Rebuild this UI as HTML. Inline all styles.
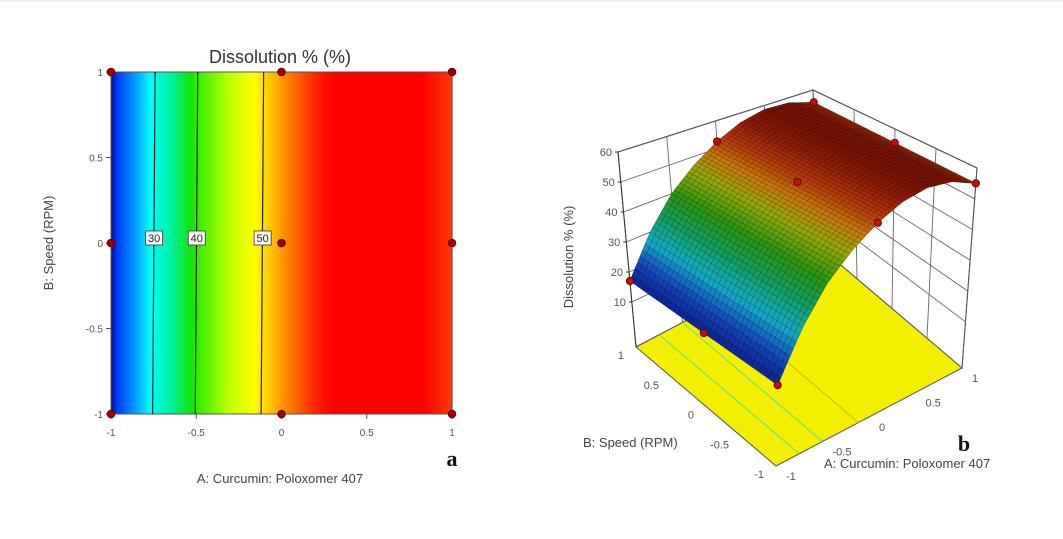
<!DOCTYPE html>
<html><head><meta charset="utf-8">
<style>
html,body{margin:0;padding:0;background:#fff;}
svg{display:block;font-family:"Liberation Sans",Arial,sans-serif;}
</style></head>
<body>
<svg id="fig" width="1063" height="539" viewBox="0 0 1063 539">
  <line x1="0" y1="1" x2="1063" y2="1" stroke="#ddd"/>
  <g id="left"></g>
  <g id="right"></g>
</svg>
<script>
// ---- data ----
const levelsA = [-1, -0.75, -0.5, -0.25, 0, 0.25, 0.5, 0.75, 1];
const dissolution = [17, 30, 40, 47, 52.5, 56.5, 58.5, 58, 55];
const contourLevels = [30, 40, 50];
const designA = [-1, 0, 1, -1, 0, 1, -1, 0, 1];
const designB = [1, 1, 1, 0, 0, 0, -1, -1, -1];
const axisTicks = [-1, -0.5, 0, 0.5, 1];
const axisTickLabels = ["-1", "-0.5", "0", "0.5", "1"];
const zTicks = [10, 20, 30, 40, 50, 60];

const NS = "http://www.w3.org/2000/svg";
function el(tag, attrs, parent, text) {
  const e = document.createElementNS(NS, tag);
  for (const k in attrs) e.setAttribute(k, attrs[k]);
  if (text !== undefined) e.textContent = text;
  parent.appendChild(e);
  return e;
}
function valueAt(a) {
  if (a <= levelsA[0]) return dissolution[0];
  for (let i = 1; i < levelsA.length; i++) {
    if (a <= levelsA[i]) {
      const t = (a - levelsA[i-1]) / (levelsA[i] - levelsA[i-1]);
      return dissolution[i-1] + t * (dissolution[i] - dissolution[i-1]);
    }
  }
  return dissolution[dissolution.length-1];
}
function aForValue(v) {
  for (let i = 1; i < levelsA.length; i++) {
    const v0 = dissolution[i-1], v1 = dissolution[i];
    if ((v - v0) * (v - v1) <= 0 && v0 !== v1) {
      return levelsA[i-1] + (v - v0) / (v1 - v0) * (levelsA[i] - levelsA[i-1]);
    }
  }
  return null;
}
function lerpStops(stops, v) {
  if (v <= stops[0][0]) return stops[0][1];
  for (let i = 1; i < stops.length; i++) {
    if (v <= stops[i][0]) {
      const t = (v - stops[i-1][0]) / (stops[i][0] - stops[i-1][0]);
      const a = stops[i-1][1], b = stops[i][1];
      return [0,1,2].map(k => Math.round(a[k] + t * (b[k] - a[k])));
    }
  }
  return stops[stops.length-1][1];
}
const flatStops = [[17,[0,16,150]],[19,[0,60,255]],[24,[0,150,255]],[29,[0,255,255]],[34,[0,240,160]],[39,[20,230,0]],[45,[180,255,0]],[49,[255,255,0]],[52,[255,170,0]],[55,[255,60,0]],[57,[255,0,0]],[60,[255,0,0]]];
const surfStops = [[15,[10,20,130]],[22,[20,70,190]],[28,[20,170,200]],[34,[20,160,100]],[40,[40,150,20]],[46,[150,170,0]],[50,[200,120,10]],[54,[180,50,10]],[58,[130,20,5]],[60,[110,15,5]]];
const rgb = c => `rgb(${c[0]},${c[1]},${c[2]})`;

// ===== Left contour plot =====
(function(){
  const g = document.getElementById('left');
  const x0 = 111, x1 = 452, y0 = 72, y1 = 414;
  const xs = a => x0 + (a + 1) / 2 * (x1 - x0);
  const ys = b => y1 - (b + 1) / 2 * (y1 - y0);
  const N = 170;
  for (let i = 0; i < N; i++) {
    const a = -1 + (i + 0.5) / N * 2;
    const r = el('rect', {x: xs(-1 + i / N * 2), y: y0, width: (x1 - x0) / N + 0.6, height: y1 - y0, fill: rgb(lerpStops(flatStops, valueAt(a)))}, g);
    
    
  }
  el('rect', {x: x0, y: y0, width: x1 - x0, height: y1 - y0, fill: 'none', stroke: '#555', 'stroke-width': 1,  }, g);
  contourLevels.forEach(v => {
    const a = aForValue(v);
    if (a === null) return;
    const x = xs(a);
    const l = el('line', {x1: x + 1.5, y1: y0, x2: x - 1, y2: y1, stroke: '#222', 'stroke-width': 1.2}, g);
    
    
    const lb = el('rect', {x: x - 8, y: ys(0) - 12, width: 17, height: 14, fill: '#fff', stroke: '#333', 'stroke-width': 0.8}, g);
    
    
    const t = el('text', {x: x + 0.5, y: ys(0) - 1, 'font-size': 11, 'text-anchor': 'middle', fill: '#222'}, g, String(v));
    
    
  });
  axisTicks.forEach((v, i) => {
    const tx = el('line', {x1: xs(v), y1: y1, x2: xs(v), y2: y1 + 5, stroke: '#555'}, g);
    
    
    const lx = el('text', {x: xs(v), y: y1 + 22, 'font-size': 10, 'text-anchor': 'middle', fill: '#555'}, g, axisTickLabels[i]);
    
    
    const ty = el('line', {x1: x0 - 5, y1: ys(v), x2: x0, y2: ys(v), stroke: '#555'}, g);
    
    
    const ly = el('text', {x: x0 - 8, y: ys(v) + 4, 'font-size': 10, 'text-anchor': 'end', fill: '#555'}, g, axisTickLabels[i]);
    
    
  });
  designA.forEach((a, i) => {
    const c = el('circle', {cx: xs(a), cy: ys(designB[i]), r: 3.8, fill: '#a00000', stroke: '#600'}, g);
    
    
  });
  el('text', {x: 280, y: 63, 'font-size': 18, 'text-anchor': 'middle', fill: '#333',  }, g, 'Dissolution % (%)');
  el('text', {x: 280, y: 483, 'font-size': 13, 'text-anchor': 'middle', fill: '#444',  }, g, 'A: Curcumin: Poloxomer 407');
  el('text', {x: 0, y: 0, 'font-size': 13, 'text-anchor': 'middle', fill: '#444', transform: 'translate(53,243) rotate(-90)',  }, g, 'B: Speed (RPM)');
  el('text', {x: 452, y: 466, 'font-size': 22, 'font-weight': 'bold', 'text-anchor': 'middle', fill: '#111', 'font-family': '"Liberation Serif",serif',  }, g, 'a');
})();

// ===== Right 3D surface =====
(function(){
  const g = document.getElementById('right');
  const z0 = -5, z1 = 60;
  const floorC = {F:[776,466], L:[636,347], R:[962,368], K:[822,249]};
  const topC = {F:[781,227], L:[618,152], R:[977,168], K:[813,90]};
  function bil(C, a, b) {
    const u = (a + 1) / 2, v = (b + 1) / 2;
    return [0,1].map(k => C.F[k]*(1-u)*(1-v) + C.R[k]*u*(1-v) + C.L[k]*(1-u)*v + C.K[k]*u*v);
  }
  function P(a, b, z) {
    const f = bil(floorC, a, b), t = bil(topC, a, b), s = (z - z0) / (z1 - z0);
    return [f[0] + s * (t[0] - f[0]), f[1] + s * (t[1] - f[1])];
  }
  const pts = arr => arr.map(p => p[0].toFixed(1) + ',' + p[1].toFixed(1)).join(' ');
  // walls
  el('polygon', {points: pts([P(-1,1,z0),P(1,1,z0),P(1,1,z1),P(-1,1,z1)]), fill: '#fff', stroke: '#555',  }, g);
  el('polygon', {points: pts([P(1,1,z0),P(1,-1,z0),P(1,-1,z1),P(1,1,z1)]), fill: '#fff', stroke: '#555',  }, g);
  zTicks.forEach(z => {
    const a = P(-1,1,z), b = P(1,1,z), c = P(1,-1,z);
    const l = el('polyline', {points: pts([a,b,c]), fill: 'none', stroke: '#666', 'stroke-width': 0.9}, g);
    
    
    const t = el('text', {x: a[0] - 6, y: a[1] + 4, 'font-size': 11, 'text-anchor': 'end', fill: '#555'}, g, String(z));
    
    
    const tk = el('line', {x1: a[0] - 3, y1: a[1], x2: a[0], y2: a[1], stroke: '#333'}, g);
    
    
  });
  [-0.5, 0, 0.5].forEach(v => {
    const l1 = el('line', {x1: P(v,1,z0)[0], y1: P(v,1,z0)[1], x2: P(v,1,z1)[0], y2: P(v,1,z1)[1], stroke: '#666', 'stroke-width': 0.9}, g);
    
    
    const l2 = el('line', {x1: P(1,v,z0)[0], y1: P(1,v,z0)[1], x2: P(1,v,z1)[0], y2: P(1,v,z1)[1], stroke: '#666', 'stroke-width': 0.9}, g);
    
    
  });
  el('line', {x1: P(-1,1,z0)[0], y1: P(-1,1,z0)[1], x2: P(-1,1,z1)[0], y2: P(-1,1,z1)[1], stroke: '#333',  }, g);
  // floor
  el('polygon', {points: pts([P(-1,-1,z0),P(1,-1,z0),P(1,1,z0),P(-1,1,z0)]), fill: '#f2f000', stroke: '#555',  }, g);
  contourLevels.forEach(v => {
    const a = aForValue(v);
    if (a === null) return;
    const p = P(a,-1,z0), q = P(a,1,z0);
    const l = el('line', {x1: p[0], y1: p[1], x2: q[0], y2: q[1], stroke: v === 50 ? '#c8c000' : '#60e080', 'stroke-width': 1}, g);
    
    
  });
  // surface mesh (painter's order back to front)
  const NA = 64, NB = 34;
  const quads = [];
  for (let i = 0; i < NA; i++) for (let j = 0; j < NB; j++) {
    const a0 = -1 + i / NA * 2, a1 = -1 + (i + 1) / NA * 2;
    const b0 = -1 + j / NB * 2, b1 = -1 + (j + 1) / NB * 2;
    quads.push({a0, a1, b0, b1, d: a0 + a1 + b0 + b1});
  }
  quads.sort((p, q) => q.d - p.d);
  quads.forEach(q => {
    const v0 = valueAt(q.a0), v1 = valueAt(q.a1);
    const col = lerpStops(surfStops, (v0 + v1) / 2);
    const poly = el('polygon', {points: pts([P(q.a0,q.b0,v0),P(q.a1,q.b0,v1),P(q.a1,q.b1,v1),P(q.a0,q.b1,v0)]), fill: rgb(col), stroke: rgb(col.map(c => Math.round(c * 0.55))), 'stroke-width': 0.45}, g);
    
    
  });
  // box top front edges
  el('polyline', {points: pts([P(-1,1,z1),P(1,1,z1),P(1,-1,z1)]), fill: 'none', stroke: '#555',  }, g);
  el('line', {x1: P(1,-1,z0)[0], y1: P(1,-1,z0)[1], x2: P(1,-1,z1)[0], y2: P(1,-1,z1)[1], stroke: '#555',  }, g);
  designA.forEach((a, i) => {
    const p = P(a, designB[i], valueAt(a));
    const c = el('circle', {cx: p[0], cy: p[1], r: 3.6, fill: '#c01010', stroke: '#700'}, g);
    
    
  });
  // floor axis ticks
  axisTicks.forEach((v, i) => {
    const pb = P(-1, v, z0);
    const tb = el('text', {x: pb[0] - 12, y: pb[1] + 12, 'font-size': 11, 'text-anchor': 'end', fill: '#555'}, g, axisTickLabels[i]);
    
    
    const pa = P(v, -1, z0);
    const ta = el('text', {x: pa[0] + 10, y: pa[1] + 14, 'font-size': 11, 'text-anchor': 'start', fill: '#555'}, g, axisTickLabels[i]);
    
    
  });
  el('text', {x: 0, y: 0, 'font-size': 13, 'text-anchor': 'middle', fill: '#444', transform: 'translate(573,257) rotate(-90)',  }, g, 'Dissolution % (%)');
  el('text', {x: 583, y: 447, 'font-size': 13, fill: '#444',  }, g, 'B: Speed (RPM)');
  el('text', {x: 824, y: 468, 'font-size': 13, fill: '#444',  }, g, 'A: Curcumin: Poloxomer 407');
  el('text', {x: 964, y: 451, 'font-size': 22, 'font-weight': 'bold', 'text-anchor': 'middle', fill: '#111', 'font-family': '"Liberation Serif",serif',  }, g, 'b');
})();
</script>
</body></html>
